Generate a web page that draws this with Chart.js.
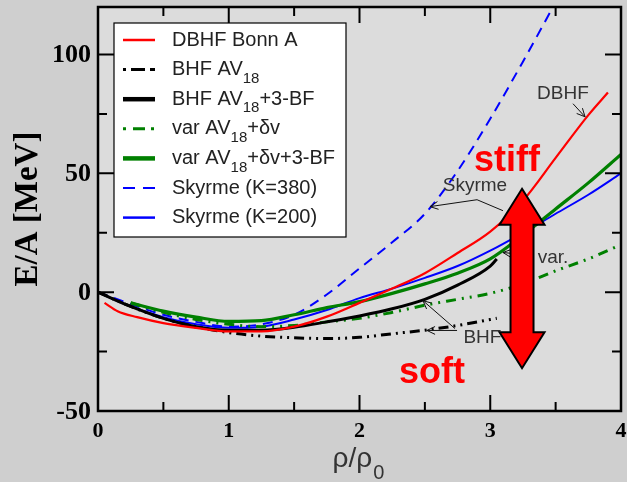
<!DOCTYPE html>
<html>
<head>
<meta charset="utf-8">
<script src="https://cdn.jsdelivr.net/npm/chart.js@4.4.0/dist/chart.umd.min.js"></script>
<style>
  html, body { margin: 0; padding: 0; background: #cfcfcf; }
  canvas { display: block; }
</style>
</head>
<body>
<canvas id="chart" width="627" height="482"></canvas>
<script>
// --- data (rho/rho0 , E/A in MeV) ---
const rhoDBHF = [0.05, 0.15, 0.3, 0.5, 0.75, 1.0, 1.25, 1.5, 1.75, 2.0, 2.25, 2.5, 2.75, 3.0, 3.25, 3.5, 3.75, 3.9];
const eDBHF   = [-4.5, -8, -10.5, -13, -15, -16.5, -16.5, -14.5, -10.3, -4.5, 1.5, 8, 16.5, 25.5, 38.5, 56.5, 74.5, 84];

const rhoBHF = [0, 0.25, 0.5, 0.75, 1.0, 1.25, 1.5, 1.75, 2.0, 2.25, 2.5, 2.75, 3.0, 3.05];
const eBHF   = [0, -6, -11, -14.5, -17, -18.5, -19.2, -19.5, -19, -17.5, -16, -14, -11.5, -11];

const rhoBHF3 = [0, 0.25, 0.5, 0.75, 1.0, 1.25, 1.5, 1.75, 2.0, 2.25, 2.5, 2.75, 3.0, 3.05];
const eBHF3   = [0, -6, -11, -14.5, -16, -16, -14.8, -12.5, -10, -7, -3, 3, 11, 14];

const rhoVar = [0.25, 0.5, 0.75, 1.0, 1.25, 1.5, 1.75, 2.0, 2.25, 2.5, 2.75, 3.0, 3.25, 3.5, 3.75, 4.0];
const eVar   = [-4.5, -8.5, -11.5, -13.5, -14.5, -14, -12.5, -11, -8.5, -5.5, -3, -0.5, 3.5, 9, 14, 20];

const rhoVar3 = [0.25, 0.5, 0.75, 1.0, 1.25, 1.5, 1.75, 2.0, 2.25, 2.5, 2.75, 3.0, 3.25, 3.5, 3.75, 4.0];
const eVar3   = [-4.5, -8, -10.5, -12.3, -12, -9.5, -6.5, -4, -0.5, 3.5, 8, 14, 24, 35, 46, 58];

const rhoSky380 = [0, 0.25, 0.5, 0.75, 1.0, 1.25, 1.5, 1.75, 2.0, 2.25, 2.5, 2.75, 3.0, 3.25, 3.5];
const eSky380   = [0, -5, -9.5, -12.5, -14.5, -13.5, -9.5, -1, 10, 21, 33, 51, 73, 97, 122];

const rhoSky200 = [0, 0.25, 0.5, 0.75, 1.0, 1.25, 1.5, 1.75, 2.0, 2.25, 2.5, 2.75, 3.0, 3.25, 3.5, 3.75, 4.0];
const eSky200   = [0, -6, -10.5, -13.5, -15, -14.5, -11.5, -7.5, -2.5, 1.5, 6, 11, 17.5, 25, 33, 41, 50];

// tick labels
const xTicks = [0, 1, 2, 3, 4];
const xMinor = [0.5, 1.5, 2.5, 3.5];
const yTicks = [-50, 0, 50, 100];
const yMinor = [-25, 25, 75];

// legend labels (parts: [text, subscript?])
const legendLabels = [
  [['DBHF Bonn A']],
  [['BHF AV'], ['18', true]],
  [['BHF AV'], ['18', true], ['+3-BF']],
  [['var AV'], ['18', true], ['+\u03b4v']],
  [['var AV'], ['18', true], ['+\u03b4v+3-BF']],
  [['Skyrme (K=380)']],
  [['Skyrme (K=200)']]
];

// annotations in data coordinates
const notes = [
  { text: 'DBHF',   x: 3.556, y: 83.5 },
  { text: 'Skyrme', x: 2.883, y: 44.8 },
  { text: 'var.',   x: 3.48,  y: 14.6 },
  { text: 'BHF',    x: 2.94,  y: -19 }
];
const pointers = [
  [[3.633, 79.3], [3.725, 73.8]],
  [[3.097, 34.3], [2.899, 38.9], [2.539, 36.0]],
  [[3.327, 15.4], [3.097, 16.7]],
  [[2.73, -15.3], [2.486, -3.6]],
  [[2.746, -16.1], [2.516, -16.1]]
];
const bigArrow = { x: 3.243, top: 43.5, bottom: -32 };
const words = [
  { text: 'stiff', x: 3.128, y: 55.3 },
  { text: 'soft',  x: 2.554, y: -34.2 }
];

function pts(xs, ys) {
  return xs.map((x, i) => ({ x: x, y: ys[i] }));
}

const series = [
  { data: pts(rhoDBHF, eDBHF),     color: '#ff0000', width: 2.2, dash: [] },
  { data: pts(rhoBHF, eBHF),       color: '#000000', width: 3,   dash: [10, 5, 2, 5, 2, 5] },
  { data: pts(rhoBHF3, eBHF3),     color: '#000000', width: 3,   dash: [] },
  { data: pts(rhoVar, eVar),       color: '#008000', width: 3,   dash: [10, 6, 2, 6, 2, 6] },
  { data: pts(rhoVar3, eVar3),     color: '#008000', width: 3.2, dash: [] },
  { data: pts(rhoSky380, eSky380), color: '#0000ff', width: 2,   dash: [10, 7] },
  { data: pts(rhoSky200, eSky200), color: '#0000ff', width: 2,   dash: [] }
];

const SERIF = '"Liberation Serif", "DejaVu Serif", serif';
const SANS = '"Liberation Sans", Arial, sans-serif';

// 背景
const bgPlugin = {
  id: 'bg',
  beforeDraw(chart) {
    const ctx = chart.ctx, a = chart.chartArea;
    ctx.save();
    ctx.fillStyle = '#cfcfcf';
    ctx.fillRect(0, 0, chart.width, chart.height);
    ctx.fillStyle = '#dcdcdc';
    ctx.fillRect(a.left, a.top, a.right - a.left, a.bottom - a.top);
    ctx.restore();
  }
};

function arrowHead(ctx, x0, y0, x1, y1, size) {
  const ang = Math.atan2(y1 - y0, x1 - x0);
  ctx.beginPath();
  ctx.moveTo(x1 - size * Math.cos(ang - 0.45), y1 - size * Math.sin(ang - 0.45));
  ctx.lineTo(x1, y1);
  ctx.lineTo(x1 - size * Math.cos(ang + 0.45), y1 - size * Math.sin(ang + 0.45));
  ctx.stroke();
}

// 注釈・矢印・枠・目盛り・凡例
const decoPlugin = {
  id: 'deco',
  afterDatasetsDraw(chart) {
    const ctx = chart.ctx, a = chart.chartArea;
    const xs = chart.scales.x, ys = chart.scales.y;
    const px = v => xs.getPixelForValue(v);
    const py = v => ys.getPixelForValue(v);
    ctx.save();

    // annotation pointers
    ctx.strokeStyle = '#111';
    ctx.lineWidth = 1;
    pointers.forEach(p => {
      ctx.beginPath();
      p.forEach((q, i) => i ? ctx.lineTo(px(q[0]), py(q[1])) : ctx.moveTo(px(q[0]), py(q[1])));
      ctx.stroke();
      const n = p.length;
      arrowHead(ctx, px(p[n - 2][0]), py(p[n - 2][1]), px(p[n - 1][0]), py(p[n - 1][1]), 9);
    });
    ctx.fillStyle = '#333';
    ctx.font = '19px ' + SANS;
    ctx.textAlign = 'center';
    ctx.textBaseline = 'middle';
    notes.forEach(n => ctx.fillText(n.text, px(n.x), py(n.y)));

    // big double arrow
    const cx = px(bigArrow.x), t = py(bigArrow.top), b = py(bigArrow.bottom);
    const hw = 22.5, sw = 11.5, hh = 36;
    ctx.beginPath();
    ctx.moveTo(cx, t);
    ctx.lineTo(cx + hw, t + hh);
    ctx.lineTo(cx + sw, t + hh);
    ctx.lineTo(cx + sw, b - hh);
    ctx.lineTo(cx + hw, b - hh);
    ctx.lineTo(cx, b);
    ctx.lineTo(cx - hw, b - hh);
    ctx.lineTo(cx - sw, b - hh);
    ctx.lineTo(cx - sw, t + hh);
    ctx.lineTo(cx - hw, t + hh);
    ctx.closePath();
    ctx.fillStyle = '#ff0000';
    ctx.fill();
    ctx.strokeStyle = '#000';
    ctx.lineWidth = 2;
    ctx.lineJoin = 'miter';
    ctx.stroke();

    ctx.fillStyle = '#ff0000';
    ctx.font = 'bold 36px ' + SANS;
    words.forEach(w => ctx.fillText(w.text, px(w.x), py(w.y)));

    // frame and inward ticks
    ctx.strokeStyle = '#000';
    ctx.lineWidth = 2.5;
    ctx.strokeRect(a.left, a.top, a.right - a.left, a.bottom - a.top);
    ctx.lineWidth = 2;
    const tick = (vals, len) => {
      vals.forEach(v => {
        const x = px(v);
        ctx.beginPath();
        ctx.moveTo(x, a.bottom); ctx.lineTo(x, a.bottom - len);
        ctx.moveTo(x, a.top); ctx.lineTo(x, a.top + len);
        ctx.stroke();
      });
    };
    const tickY = (vals, len) => {
      vals.forEach(v => {
        const y = py(v);
        ctx.beginPath();
        ctx.moveTo(a.left, y); ctx.lineTo(a.left + len, y);
        ctx.moveTo(a.right, y); ctx.lineTo(a.right - len, y);
        ctx.stroke();
      });
    };
    tick(xTicks, 16); tick(xMinor, 9);
    tickY(yTicks, 16); tickY(yMinor, 9);

    // tick labels
    ctx.fillStyle = '#000';
    ctx.font = 'bold 22px ' + SERIF;
    ctx.textAlign = 'center';
    ctx.textBaseline = 'middle';
    xTicks.forEach(v => ctx.fillText(String(v), px(v), a.bottom + 20));
    ctx.font = 'bold 26px ' + SERIF;
    ctx.textAlign = 'right';
    yTicks.forEach(v => ctx.fillText(String(v), a.left - 7, py(v) + 1));

    // axis titles
    ctx.save();
    ctx.translate(28, 209);
    ctx.rotate(-Math.PI / 2);
    ctx.textAlign = 'center';
    ctx.font = 'bold 33px ' + SERIF;
    ctx.fillText('E/A [MeV]', 0, 0);
    ctx.restore();

    ctx.fillStyle = '#333';
    ctx.textAlign = 'left';
    ctx.textBaseline = 'alphabetic';
    ctx.font = '28px ' + SANS;
    const main = '\u03c1/\u03c1';
    const mw = ctx.measureText(main).width;
    ctx.font = '20px ' + SANS;
    const sw0 = ctx.measureText('0').width;
    const sx = 358 - (mw + sw0) / 2;
    ctx.font = '28px ' + SANS;
    ctx.fillText(main, sx, 467);
    ctx.font = '20px ' + SANS;
    ctx.fillText('0', sx + mw + 1, 479);

    // legend
    const lx = a.left + 16, ly = a.top + 16, lw = 232, lh = 214;
    ctx.fillStyle = '#fff';
    ctx.fillRect(lx, ly, lw, lh);
    ctx.strokeStyle = '#000';
    ctx.lineWidth = 1.2;
    ctx.strokeRect(lx, ly, lw, lh);
    const legendWidths = [2.5, 3, 4.5, 3, 4.5, 2, 2.5];
    const legendDash = [[], [3, 5, 14, 5, 14, 5], [], [3, 7, 12, 6], [], [12, 8], []];
    legendLabels.forEach((parts, i) => {
      const yy = ly + 17 + i * 29.6;
      ctx.strokeStyle = series[i].color;
      ctx.lineWidth = legendWidths[i];
      ctx.setLineDash(legendDash[i]);
      ctx.beginPath();
      ctx.moveTo(lx + 9, yy);
      ctx.lineTo(lx + 41, yy);
      ctx.stroke();
      ctx.setLineDash([]);
      let tx = lx + 58;
      ctx.fillStyle = '#222';
      ctx.textBaseline = 'middle';
      parts.forEach(p => {
        if (p[1]) {
          ctx.font = '15px ' + SANS;
          ctx.fillText(p[0], tx, yy + 9);
        } else {
          ctx.font = '20px ' + SANS;
          ctx.fillText(p[0], tx, yy);
        }
        tx += ctx.measureText(p[0]).width;
      });
    });

    ctx.restore();
  }
};

new Chart(document.getElementById('chart'), {
  type: 'line',
  data: {
    datasets: series.map(s => ({
      data: s.data,
      borderColor: s.color,
      borderWidth: s.width,
      borderDash: s.dash,
      pointRadius: 0,
      cubicInterpolationMode: 'monotone',
      fill: false
    }))
  },
  options: {
    responsive: false,
    animation: false,
    devicePixelRatio: 1,
    layout: { padding: { left: 98, right: 6, top: 7, bottom: 71 } },
    plugins: { legend: { display: false }, tooltip: { enabled: false } },
    scales: {
      x: { type: 'linear', min: 0, max: 4, display: false },
      y: { type: 'linear', min: -50, max: 120, display: false }
    }
  },
  plugins: [bgPlugin, decoPlugin]
});
</script>
</body>
</html>
